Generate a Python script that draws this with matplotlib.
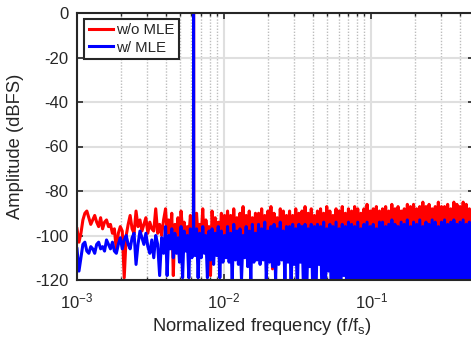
import numpy as np
import matplotlib
matplotlib.use("Agg")
import matplotlib.pyplot as plt
from matplotlib.ticker import LogLocator, NullFormatter

plt.rcParams['font.family'] = ['Liberation Sans', 'DejaVu Sans']
plt.rcParams['mathtext.fontset'] = 'custom'
plt.rcParams['mathtext.rm'] = 'Liberation Sans'
plt.rcParams['mathtext.it'] = 'Liberation Sans:italic'
plt.rcParams['mathtext.bf'] = 'Liberation Sans:bold'
plt.rcParams['axes.unicode_minus'] = False

# ---------------- data ----------------
series_labels = ["w/o MLE", "w/ MLE"]

red_low = [-97, -103, -99, -93, -90, -89, -92, -95, -93, -91,
           -94, -96, -92, -97, -94, -93, -96, -95, -99, -97,
           -107, -99, -96, -98, -119, -100, -95, -91, -97, -99,
           -89, -96, -93, -98, -95, -92, -99, -94, -97, -98,
           -88, -99, -95, -100, -93]
blue_low = [-106, -116, -110, -104, -103, -107, -108, -105, -106, -108,
            -104, -103, -106, -105, -107, -102, -104, -106, -103, -107,
            -108, -104, -101, -106, -102, -100, -104, -106, -101, -99,
            -113, -104, -98, -101, -104, -99, -105, -108, -102, -110,
            -100, -104, -118, -101, -108]

red_dense = [
    -88, -99, -93, -102, -90, -118, -95, -100, -92, -103, -89, -98, -94, -104, -96, -101, -91, -100, -93, -103,
    -90, -101, -95, -100, -88, -104, -93, -99, -96, -118, -89, -102, -92, -100, -94, -103, -90, -105, -91, -100,
    -89, -100, -91, -103, -88, -102, -92, -110, -90, -101, -87, -104, -91, -100, -89, -102, -92, -103, -90, -101,
    -90, -101, -88, -103, -91, -100, -89, -102, -87, -115, -90, -101, -92, -104, -88, -100, -89, -102, -91, -103,
    -89, -102, -91, -100, -88, -103, -90, -101, -89, -104, -87, -100, -90, -102, -88, -101, -91, -103, -89, -100,
    -88, -101, -90, -103, -87, -100, -89, -102, -91, -101, -88, -104, -89, -100, -87, -102, -90, -103, -88, -101,
    -89, -102, -87, -100, -88, -103, -90, -101, -88, -102, -86, -100, -89, -103, -88, -101, -87, -102, -89, -100,
    -88, -101, -87, -103, -89, -100, -86, -102, -88, -101, -87, -104, -89, -100, -88, -102, -86, -101, -87, -103,
    -86, -100, -88, -102, -87, -101, -85, -103, -87, -100, -86, -102, -88, -101, -87, -100, -85, -103, -87, -101,
    -87, -102, -86, -100, -88, -101, -85, -103, -86, -100, -87, -102, -85, -101, -86, -103, -88, -100, -86, -102,
]
blue_dense = [
    -96, -118, -100, -106, -97, -110, -99, -108, -101, -112, -96, -119, -98, -107, -100, -119, -97, -110, -99, -109,
    -97, -119, -99, -110, -96, -108, -100, -119, -98, -111, -97, -113, -99, -109, -96, -119, -98, -112, -100, -110,
    -96, -112, -99, -120, -95, -111, -98, -113, -97, -120, -100, -110, -96, -114, -98, -120, -95, -112, -99, -111,
    -95, -113, -97, -111, -94, -120, -98, -112, -96, -114, -95, -120, -97, -113, -94, -111, -98, -120, -96, -112,
    -96, -124, -95, -113, -97, -126, -95, -112, -96, -125, -95, -128, -97, -114, -95, -126, -96, -128, -95, -113,
    -96, -130, -94, -128, -97, -116, -95, -130, -96, -129, -94, -130, -97, -128, -95, -118, -96, -130, -94, -129,
    -95, -130, -96, -129, -94, -130, -97, -128, -95, -130, -94, -129, -96, -130, -95, -128, -97, -130, -94, -129,
    -94, -130, -96, -129, -95, -130, -93, -128, -95, -130, -96, -129, -94, -130, -95, -128, -93, -130, -96, -129,
    -94, -130, -95, -129, -93, -130, -96, -128, -94, -130, -95, -129, -93, -130, -94, -128, -96, -130, -94, -129,
    -93, -130, -95, -129, -94, -130, -93, -128, -95, -130, -94, -129, -93, -130, -95, -128, -94, -130, -93, -129,
]

# digitisation grid: sparse part (1e-3 .. 4e-3) and dense part (4e-3 .. 0.5)
f_low = np.geomspace(1e-3, 4e-3, len(red_low), endpoint=False)
f_dense = np.geomspace(4e-3, 0.5, len(red_dense))

# test tone
tone_f = [0.00618, 0.0062, 0.00622]
tone_red = [-100, 0, -100]
tone_blue = [-105, 0, -105]

yticks = [-120, -100, -80, -60, -40, -20, 0]


def assemble(low, dense, tone):
    f = np.concatenate([f_low, f_dense, tone_f])
    a = np.concatenate([low, dense, tone])
    order = np.argsort(f)
    return f[order], a[order]


f_r, a_r = assemble(red_low, red_dense, tone_red)
f_b, a_b = assemble(blue_low, blue_dense, tone_blue)

# ---------------- figure ----------------
W, H = 471, 339
fig = plt.figure(figsize=(W / 100, H / 100), dpi=100)
L, R, T, B = 77, 474, 13, 280
ax = fig.add_axes([L / W, 1 - B / H, (R - L) / W, (B - T) / H])

dark = '#262626'
ax.plot(f_r, a_r, color='#ff0000', lw=2.2, label=series_labels[0], zorder=3)
ax.plot(f_b, a_b, color='#0000ff', lw=2.2, label=series_labels[1], zorder=4)

ax.set_xscale('log')
ax.set_xlim(1e-3, 0.5)
ax.set_ylim(-120, 0)
ax.set_yticks(yticks)
ax.xaxis.set_major_locator(LogLocator(base=10, numticks=10))
ax.xaxis.set_minor_locator(LogLocator(base=10, subs=np.arange(2, 10), numticks=20))
ax.xaxis.set_minor_formatter(NullFormatter())

ax.set_axisbelow(True)
ax.grid(True, which='major', color='#dfdfdf', lw=1.5, ls='-')
ax.grid(True, which='minor', axis='x', color='#bdbdbd', lw=1.0, ls=(0, (1, 1.2)))

for s in ax.spines.values():
    s.set_color(dark)
    s.set_linewidth(1.5)
    s.set_zorder(6)

ax.tick_params(which='both', direction='in', top=True, right=True, color=dark,
               labelcolor=dark, labelsize=12)
ax.tick_params(which='major', length=4.5, width=1.2)
ax.tick_params(which='minor', length=2.5, width=1.0)
ax.tick_params(axis='y', pad=6)
ax.tick_params(axis='x', pad=8)

ax.set_xlabel('Normalized frequency (f/f$_{\\rm s}$)', fontsize=13.2, color=dark)
ax.set_ylabel('Amplitude (dBFS)', fontsize=13.2, color=dark)
ax.xaxis.set_label_coords((262 - L) / (R - L), -0.135)
ax.yaxis.set_label_coords((24 - L) / (R - L), 0.5)

leg = ax.legend(loc='upper left', bbox_to_anchor=((84 - L) / (R - L), (B - 19) / (B - T)),
                borderaxespad=0, fontsize=10.8, frameon=True, fancybox=False,
                framealpha=1, edgecolor=dark, handlelength=1.6, handletextpad=0.25,
                borderpad=0.3, labelspacing=0.2)
leg.get_frame().set_linewidth(1.5)
leg.set_zorder(10)
for t in leg.get_texts():
    t.set_color(dark)

fig.savefig('out.png', dpi=100)
